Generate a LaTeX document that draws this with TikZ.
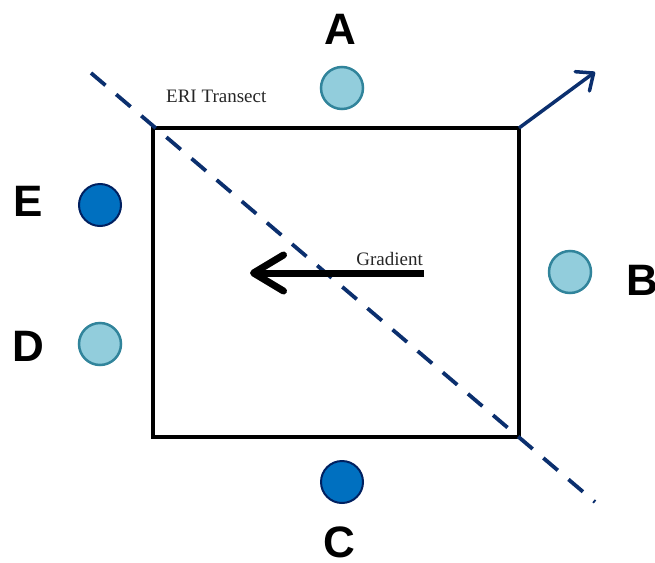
\documentclass[tikz,border=0pt]{standalone}
\usepackage{fontspec}
\setmainfont{Liberation Serif}
\newfontfamily\labfont{Liberation Sans}
\usetikzlibrary{arrows.meta}
\definecolor{navy}{HTML}{0B2F6E}
\definecolor{lightfill}{HTML}{92CDDC}
\definecolor{lightline}{HTML}{31849B}
\definecolor{darkfill}{HTML}{0070C0}
\definecolor{darkline}{HTML}{002060}
\tikzset{
  lightdot/.style={circle,draw=lightline,fill=lightfill,line width=2.5pt,minimum size=42pt,inner sep=0pt},
  darkdot/.style={circle,draw=darkline,fill=darkfill,line width=2pt,minimum size=42pt,inner sep=0pt},
  letter/.style={font=\labfont\bfseries\fontsize{44}{44}\selectfont,inner sep=0pt,text=black},
  small/.style={font=\fontsize{19}{19}\selectfont,inner sep=0pt,text=black!85},
  transect/.style={navy,line width=3.8pt,dash pattern=on 19pt off 14pt},
}
\begin{document}
\begin{tikzpicture}[x=1pt,y=-1pt]
\useasboundingbox (0,0) rectangle (655,562);
% rectangle
\coordinate (tl) at (153,128);
\coordinate (br) at (519,437);
\coordinate (tr) at (519,128);
\draw[line width=4pt] (tl) rectangle (br);
% transect
\coordinate (t1) at (91,73);
\coordinate (t2) at (595,502);
\draw[transect] (t1) -- (t2);
% arrow at corner
\coordinate (ae) at (595,72);
\draw[navy,line width=3.5pt,-{Straight Barb[length=14pt,width=24pt,round]}] (tr) -- (ae);
% gradient arrow
\coordinate (g1) at (424,273);
\coordinate (g2) at (250,273);
\draw[line width=7pt,-{Straight Barb[length=30pt,width=36pt,round]}] (g1) -- (g2);
\node[small,anchor=base east] (gl) at (423,265) {Gradient};
\node[small,anchor=base west] (el) at (166,102) {ERI Transect};
% circles
\node[lightdot] (A) at (342,88) {};
\node[lightdot] (B) at (570,272) {};
\node[darkdot] (C) at (342,482) {};
\node[lightdot] (D) at (100,344) {};
\node[darkdot] (E) at (100,205) {};
% letters
\node[letter] (lA) at (340,29) {A};
\node[letter] (lB) at (642,280) {B};
\node[letter] (lC) at (339,542) {C};
\node[letter] (lD) at (28,346) {D};
\node[letter] (lE) at (28,201) {E};
\end{tikzpicture}
\end{document}
